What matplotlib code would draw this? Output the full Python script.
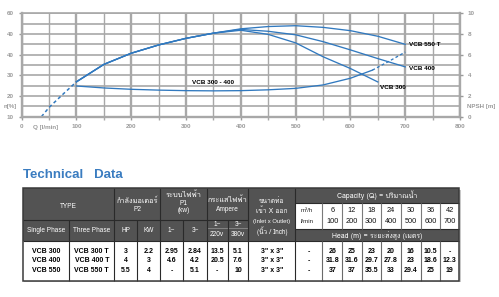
import matplotlib
matplotlib.use("Agg")
import matplotlib.pyplot as plt
from matplotlib import font_manager, ft2font
from matplotlib.patches import Rectangle

# ---------------- data ----------------
eff_dash_q = [36, 50, 75, 100]
eff_dash_v = [10, 14.5, 20.8, 26.9]
q_550t = [100, 150, 200, 250, 300, 350, 400, 450, 500, 550, 600, 650, 700]
v_550t = [26.9, 35.3, 40.7, 44.7, 47.9, 50.4, 52.5, 53.6, 54.0, 53.2, 51.6, 48.9, 45.0]
q_400 = [100, 150, 200, 250, 300, 350, 400, 450, 500, 550, 600, 650, 700]
v_400 = [26.9, 35.3, 40.7, 44.7, 47.9, 50.4, 52.2, 51.3, 49.6, 46.3, 42.3, 38.1, 34.1]
q_300 = [100, 150, 200, 250, 300, 350, 400, 450, 500, 550, 600, 650]
v_300 = [26.9, 35.3, 40.7, 44.7, 47.9, 50.4, 51.8, 49.8, 45.7, 39.0, 33.3, 26.8]
npsh_q = [100, 150, 200, 250, 300, 350, 400, 450, 500, 550, 600, 640]
npsh_v = [2.97, 2.78, 2.65, 2.57, 2.52, 2.50, 2.52, 2.60, 2.74, 3.07, 3.72, 4.50]
npsh_dash_q = [640, 670, 700]
npsh_dash_v = [4.50, 5.35, 6.25]

x_ticks = [0, 100, 200, 300, 400, 500, 600, 700, 800]
y_ticks = [10, 20, 30, 40, 50, 60]
y_tick_labels = ["10", "20", "30", "40", "40", "60"]
y2_ticks = [0, 2, 4, 6, 8, 10]

single_phase = ["VCB 300", "VCB 400", "VCB 550"]
three_phase = ["VCB 300 T", "VCB 400 T", "VCB 550 T"]
hp = ["3", "4", "5.5"]
kw = ["2.2", "3", "4"]
p1_single = ["2.95", "4.6", "-"]
p1_three = ["2.84", "4.2", "5.1"]
amp_single = ["13.5", "20.5", "-"]
amp_three = ["5.1", "7.6", "10"]
pipe = ['3" x 3"', '3" x 3"', '3" x 3"']
cap_m3h = ["6", "12", "18", "24", "30", "36", "42"]
cap_lmin = ["100", "200", "300", "400", "500", "600", "700"]
head = [["26", "25", "23", "20", "16", "10.5", "-"],
        ["31.8", "31.6", "29.7", "27.8", "23", "18.6", "12.3"],
        ["37", "37", "35.5", "33", "29.4", "25", "19"]]

# ---------------- fonts ----------------
plt.rcParams['font.family'] = ['Liberation Sans', 'DejaVu Sans']


def find_thai():
    for f in font_manager.fontManager.ttflist:
        try:
            ft = ft2font.FT2Font(f.fname)
            if 0x0E01 in ft.get_charmap():
                return f.name
        except Exception:
            pass
    return None


thai = find_thai()
TH = [thai, 'Liberation Sans', 'DejaVu Sans'] if thai else ['Liberation Sans', 'DejaVu Sans']

W, H = 499, 297
fig = plt.figure(figsize=(W / 100, H / 100), dpi=100)

# ---------------- table layer (pixel coords) ----------------
tax = fig.add_axes([0, 0, 1, 1])
tax.set_xlim(0, W)
tax.set_ylim(H, 0)
tax.axis('off')

BLUE = '#3179bf'
GRID = '#a8a8a8'
TXTG = '#9a9a9a'
DARK = '#535353'
LINE = '#2a2a2a'

tax.text(23, 177.7, "Technical   Data", color='#3a7cc0', fontsize=9.5,
         fontweight='bold', va='baseline', ha='left')

cols = [22.7, 69.3, 114.3, 137.3, 160, 183.3, 206.7, 227.7, 248.3, 295.5,
        322.3, 342.3, 361.7, 380.7, 400.7, 420.7, 440, 459.5]
top, r1, r2, bot = 188.3, 219.5, 241, 280.7
cap_b, head_t = 202.7, 229.3

# shadow
tax.add_patch(Rectangle((cols[0] + 1.5, top + 1.5), cols[-1] - cols[0], bot - top,
                        facecolor='#c8c8c8', edgecolor='none', zorder=1))
# white body
tax.add_patch(Rectangle((cols[0], top), cols[-1] - cols[0], bot - top,
                        facecolor='white', edgecolor='none', zorder=2))
# dark headers
tax.add_patch(Rectangle((cols[0], top), cols[9] - cols[0], r2 - top,
                        facecolor=DARK, edgecolor='none', zorder=3))
tax.add_patch(Rectangle((cols[9], top), cols[17] - cols[9], cap_b - top,
                        facecolor=DARK, edgecolor='none', zorder=3))
tax.add_patch(Rectangle((cols[9], head_t), cols[17] - cols[9], r2 - head_t,
                        facecolor=DARK, edgecolor='none', zorder=3))


def hl(y, x0, x1, c=LINE, lw=0.8):
    tax.plot([x0, x1], [y, y], color=c, lw=lw, zorder=4, solid_capstyle='butt')


def vl(x, y0, y1, c=LINE, lw=0.8):
    tax.plot([x, x], [y0, y1], color=c, lw=lw, zorder=4, solid_capstyle='butt')


hl(r1, cols[0], cols[8])
hl(228, cols[6], cols[8], c='#8a8a8a', lw=0.6)
hl(r2, cols[0], cols[17])
hl(cap_b, cols[9], cols[17])
hl(head_t, cols[9], cols[17])
for i in [2, 4, 6, 8, 9]:
    vl(cols[i], top, bot)
for i in [1, 3, 5, 7]:
    vl(cols[i], r1, bot)
for i in range(10, 17):
    vl(cols[i], cap_b, head_t, c='#7a7a7a')
    vl(cols[i], r2, bot, c='#6a6a6a')
tax.add_patch(Rectangle((cols[0], top), cols[-1] - cols[0], bot - top,
                        facecolor='none', edgecolor='#3a3a3a', lw=1.1, zorder=5))

FS = 4.7


def ctr(i, j):
    return (cols[i] + cols[j]) / 2


def wt(x, y, s, fam=None, fs=FS, c='white', bold=False):
    kw_ = dict(color=c, fontsize=fs, ha='center', va='center', zorder=6,
               fontweight='bold' if bold else 'normal')
    if fam:
        kw_['family'] = fam
    tax.text(x, y, s, **kw_)


wt(ctr(0, 2), 206, "TYPE")
wt(ctr(2, 4), 201, "กำลังมอเตอร์", fam=TH, fs=5.3)
wt(ctr(2, 4), 209.5, "P2")
wt(ctr(4, 6), 195, "ระบบไฟฟ้า", fam=TH, fs=5.3)
wt(ctr(4, 6), 203.3, "P1")
wt(ctr(4, 6), 211, "(kw)")
wt(ctr(6, 8), 200, "กระแสไฟฟ้า", fam=TH, fs=5.3)
wt(ctr(6, 8), 209.5, "Ampere")
wt(ctr(6, 7), 224, "1~")
wt(ctr(7, 8), 224, "3~")
wt(ctr(6, 7), 235, "220v")
wt(ctr(7, 8), 235, "380v")
wt(ctr(0, 1), 231, "Single Phase")
wt(ctr(1, 2), 231, "Three Phase")
wt(ctr(2, 3), 231, "HP")
wt(ctr(3, 4), 231, "KW")
wt(ctr(4, 5), 231, "1~")
wt(ctr(5, 6), 231, "3~")
wt(ctr(8, 9), 201.5, "ขนาดท่อ", fam=TH, fs=4.8)
wt(ctr(8, 9), 211.5, "เข้า X ออก", fam=TH, fs=4.8)
wt(ctr(8, 9), 221.5, "(Inlet x Outlet)", fs=4.2)
wt(ctr(8, 9), 231, "(นิ้ว / Inch)", fam=TH, fs=4.6)
wt(ctr(9, 17), 195, "Capacity (Q) = ปริมาณน้ำ", fam=TH, fs=5.0)
wt(ctr(9, 17), 235.5, "Head (m) = ระยะส่งสูง (เมตร)", fam=TH, fs=5.0)
wt(ctr(9, 10) - 2, 210.7, "m³/h", c='#222222', fs=4.4)
wt(ctr(9, 10) - 2, 221.7, "l/min", c='#222222', fs=4.4)
for k in range(7):
    wt(ctr(10 + k, 11 + k), 210.7, cap_m3h[k], c='#111111', fs=5.3)
    wt(ctr(10 + k, 11 + k), 221.7, cap_lmin[k], c='#111111', fs=5.3)

row_y = [251.5, 261, 270.7]
columns_data = [(0, 1, single_phase), (1, 2, three_phase), (2, 3, hp), (3, 4, kw),
                (4, 5, p1_single), (5, 6, p1_three), (6, 7, amp_single),
                (7, 8, amp_three), (8, 9, pipe), (9, 10, ["-", "-", "-"])]
for i, j, vals in columns_data:
    for r, v in enumerate(vals):
        wt(ctr(i, j), row_y[r], v, c='black', bold=True, fs=5.0)
for r in range(3):
    for k in range(7):
        wt(ctr(10 + k, 11 + k), row_y[r], head[r][k], c='black', bold=True, fs=5.0)

# ---------------- chart ----------------
x0, x1 = 21.7, 460.0
yt, yb = 13.3, 116.7
ax = fig.add_axes([x0 / W, 1 - yb / H, (x1 - x0) / W, (yb - yt) / H])
ax.patch.set_alpha(0)
ax.set_xlim(0, 800)
ax.set_ylim(10, 60)
ax.set_xticks(x_ticks)
ax.set_xticks([50, 150, 250, 350, 450, 550, 650, 750], minor=True)
ax.set_yticks(y_ticks)
ax.set_yticklabels(y_tick_labels)
ax.set_yticks([15, 25, 35, 45, 55], minor=True)
ax.grid(which='major', axis='x', color=GRID, lw=1.7)
ax.grid(which='minor', axis='x', color=GRID, lw=1.0)
ax.grid(which='both', axis='y', color=GRID, lw=1.2)
ax.set_axisbelow(True)
for s in ['left', 'bottom', 'right']:
    ax.spines[s].set_color(GRID)
    ax.spines[s].set_linewidth(1.7)
ax.spines['top'].set_color(GRID)
ax.spines['top'].set_linewidth(1.2)
ax.tick_params(axis='both', which='major', colors=TXTG, labelsize=4.5, length=2.5,
               width=1.0, pad=3)
ax.tick_params(axis='x', which='minor', colors=GRID, length=2.5, width=1.0)
ax.tick_params(axis='y', which='minor', length=0)
for lab in ax.get_xticklabels() + ax.get_yticklabels():
    lab.set_fontweight('bold')

ax2 = ax.twinx()
ax2.set_ylim(0, 10)
ax2.set_yticks(y2_ticks)
ax2.tick_params(axis='y', colors=TXTG, labelsize=4.5, length=2.5, width=1.0, pad=3)
for lab in ax2.get_yticklabels():
    lab.set_fontweight('bold')
for s in ax2.spines.values():
    s.set_visible(False)

lw = 0.95
ax.plot(eff_dash_q, eff_dash_v, color=BLUE, lw=1.1, ls=(0, (2.2, 1.8)))
ax.plot(q_550t, v_550t, color=BLUE, lw=lw)
ax.plot(q_400, v_400, color=BLUE, lw=lw)
ax.plot(q_300, v_300, color=BLUE, lw=lw)
ax2.plot(npsh_q, npsh_v, color=BLUE, lw=lw)
ax2.plot(npsh_dash_q, npsh_dash_v, color=BLUE, lw=lw, ls=(0, (2.2, 1.8)))

lab_kw = dict(fontsize=4.6, fontweight='bold', color='black', va='center', ha='left')
ax.text(311, 26.4, "VCB 300 - 400", **lab_kw)
ax.text(707, 44.7, "VCB 550 T", **lab_kw)
ax.text(707, 33.2, "VCB 400", **lab_kw)
ax.text(654, 24.0, "VCB 300", **lab_kw)

tax.text(10, 106.7, "n[%]", color=TXTG, fontsize=4.5, fontweight='bold',
         ha='center', va='center')
tax.text(45.5, 127.7, "Q [l/min]", color=TXTG, fontsize=4.5, fontweight='bold',
         ha='center', va='center')
tax.text(481, 106.7, "NPSH [m]", color=TXTG, fontsize=4.5, fontweight='bold',
         ha='center', va='center')

fig.savefig("out.png", dpi=100)
